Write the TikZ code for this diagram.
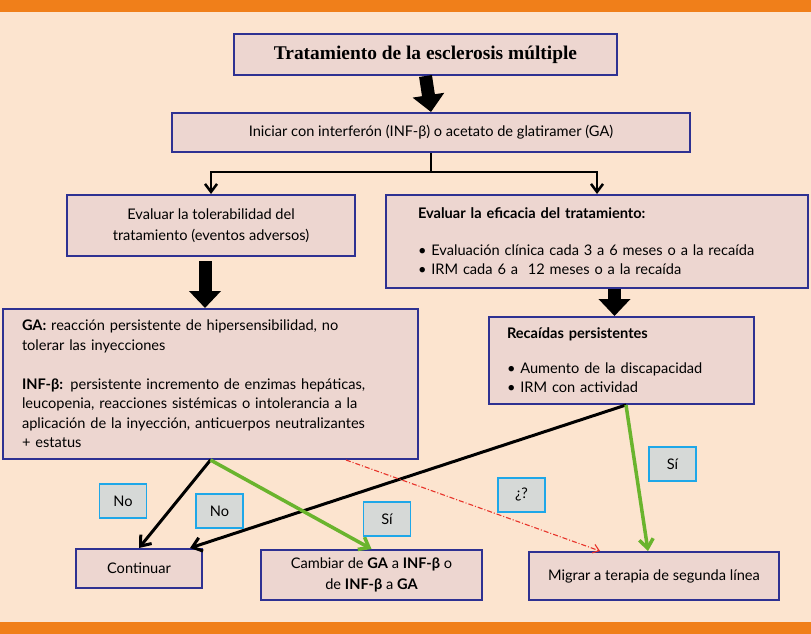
\documentclass[tikz,border=0pt]{standalone}
\usepackage{fontspec}
\setmainfont{Lato}
\newfontfamily\titlefont{Liberation Serif}
\usepackage{xcolor}
\usepackage{tikz}
\usetikzlibrary{arrows.meta, positioning, calc}

\definecolor{peach}{HTML}{FCE4CF}
\definecolor{barorange}{HTML}{F07F1A}
\definecolor{boxfill}{HTML}{EDD6D0}
\definecolor{boxline}{HTML}{2E3192}
\definecolor{tagfill}{HTML}{D6D9D7}
\definecolor{tagline}{HTML}{1EA7E8}
\definecolor{yesgreen}{HTML}{6AB42D}
\definecolor{askred}{HTML}{E8332A}

\begin{document}
\begin{tikzpicture}[x=1pt, y=-1pt,
  box/.style={rectangle, draw=boxline, line width=2pt, fill=boxfill, inner sep=0pt,
              font=\fontsize{14.6}{19.5}\selectfont},
  tag/.style={rectangle, draw=tagline, line width=1.2pt, fill=tagfill, inner sep=0pt,
              minimum width=47pt, minimum height=34pt, font=\fontsize{14.6}{16}\selectfont},
  block/.style={line width=13pt, -{Triangle[width=31pt,length=17pt]}},
  fork/.style={line width=2.5pt, -{Straight Barb[width=12pt,length=8pt]}},
  noline/.style={line width=3pt, -{Straight Barb[width=14pt,length=9pt]}},
  yesline/.style={yesgreen, line width=3.5pt, -{Straight Barb[width=14pt,length=9pt]}},
  askline/.style={askred, line width=1.1pt, dash pattern=on 5pt off 2pt on 1pt off 2pt,
                  -{Straight Barb[width=9pt,length=6pt]}}
]
  % background and orange bars
  \useasboundingbox (0,0) rectangle (811,634);
  \fill[peach] (0,0) rectangle (811,634);
  \fill[barorange] (0,0) rectangle (811,12.5);
  \fill[barorange] (0,622) rectangle (811,634);

  \node[box, minimum width=383pt, minimum height=41pt,
        font=\titlefont\bfseries\fontsize{19.4}{22}\selectfont] (title) at (425.5,54.5)
        {Tratamiento de la esclerosis múltiple};
  \node[box, minimum width=518pt, minimum height=39pt] (init) at (431,132.5)
        {Iniciar con interferón (INF-β) o acetato de glatiramer (GA)};
  \node[box, minimum width=288pt, minimum height=61pt, align=center,
        font=\fontsize{14.6}{21}\selectfont] (toler) at (211,225.5)
        {Evaluar la tolerabilidad del\\tratamiento (eventos adversos)};
  \node[box, minimum width=422pt, minimum height=93pt, inner xsep=32pt,
        text width=358pt, align=left] (efic) at (597,241.5)
        {\textbf{Evaluar la eficacia del tratamiento:}\\[17pt]
         \textbullet\ Evaluación clínica cada 3 a 6 meses o a la recaída\\
         \textbullet\ IRM cada 6 a\ \ 12 meses o a la recaída};
  \node[box, minimum width=415pt, minimum height=150pt, inner xsep=19pt,
        text width=377pt, align=left] (ga) at (210.5,384)
        {\textbf{GA:} reacción persistente de hipersensibilidad, no\\
         tolerar las inyecciones\\[19.5pt]
         \textbf{INF-β:} persistente incremento de enzimas hepáticas,\\
         leucopenia, reacciones sistémicas o intolerancia a la\\
         aplicación de la inyección, anticuerpos neutralizantes\\
         + estatus};
  \node[box, minimum width=265pt, minimum height=87pt, inner xsep=18pt,
        text width=229pt, align=left] (recaidas) at (621.5,360.5)
        {\textbf{Recaídas persistentes}\\[15pt]
         \textbullet\ Aumento de la discapacidad\\
         \textbullet\ IRM con actividad};

  % outcomes
  \node[box, minimum width=126pt, minimum height=39pt] (cont) at (139,568.5) {Continuar};
  \node[box, minimum width=221pt, minimum height=50pt, align=center,
        font=\fontsize{14.6}{21}\selectfont] (camb) at (371.5,575)
        {Cambiar de \textbf{GA} a \textbf{INF-β} o\\de \textbf{INF-β} a \textbf{GA}};
  \node[box, minimum width=250pt, minimum height=48pt] (migr) at (654,576)
        {Migrar a terapia de segunda línea};

  \draw[block] (title.south) -- (init.north);
  \draw[block] ([xshift=-6pt,yshift=-4pt]toler.south) -- ([xshift=-6pt]toler.south |- ga.north);
  \draw[block] ([xshift=-7pt]recaidas.north |- efic.south) -- ([xshift=-7pt]recaidas.north);

  \draw[fork] (init.south) -- ++(0,19) -| (toler.north);
  \draw[fork] (init.south) -- ++(0,19) -| (efic.north);

  \coordinate (recout) at ([xshift=4.5pt]recaidas.south);
  \draw[noline] (ga.south) -- (cont.north);
  \draw[noline] (recout) -- ([xshift=-13pt]cont.north east);
  \draw[yesline] (ga.south) -- (camb.north);
  \draw[yesline] (recout) -- ([xshift=-6pt]migr.north);
  \draw[askline] ([xshift=-73pt]ga.south east) -- ([xshift=72pt]migr.north west);

  % answer tags
  \node[tag] (no1) at (123,501) {No};
  \node[tag] (no2) at (219.5,511) {No};
  \node[tag] (yes1) at (387,519) {Sí};
  \node[tag] (ask) at (521.5,495) {¿?};
  \node[tag] (yes2) at (672.5,464) {Sí};
\end{tikzpicture}
\end{document}
